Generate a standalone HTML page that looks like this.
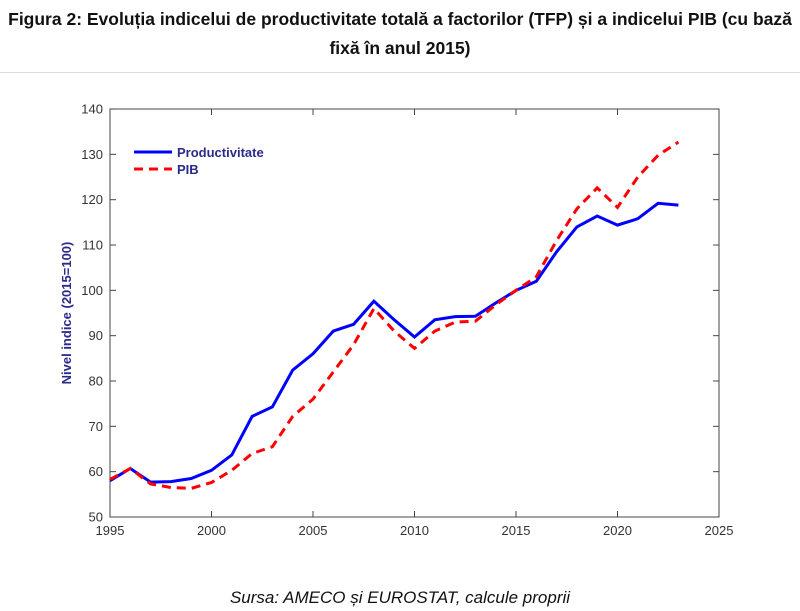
<!DOCTYPE html>
<html><head><meta charset="utf-8"><style>
body{margin:0;background:#fff;width:800px;height:611px;overflow:hidden;font-family:"Liberation Sans",sans-serif}
.t{position:absolute;left:0;width:800px;text-align:center;font-weight:bold;font-size:17.5px;color:#111;font-family:"Liberation Sans Narrow","Liberation Sans",sans-serif}
</style></head><body>
<div class="t" style="top:9px">Figura 2: Evoluția indicelui de productivitate totală a factorilor (TFP) și a indicelui PIB (cu bază</div>
<div class="t" style="top:38px">fixă în anul 2015)</div>
<div style="position:absolute;left:0;top:72px;width:800px;height:1px;background:#ddd"></div>
<svg id="s" width="800" height="611" style="position:absolute;left:0;top:0" font-family="Liberation Sans, sans-serif"></svg>
<div style="position:absolute;top:588px;left:0;width:800px;text-align:center;font-style:italic;font-size:17px;color:#111;font-family:'Liberation Sans Narrow','Liberation Sans',sans-serif">Sursa: AMECO și EUROSTAT, calcule proprii</div>
<script>
var X=function(y){return 110+20.3*(y-1995)},Y=function(v){return 517-4.533*(v-50)};
var P=[58,60.7,57.7,57.8,58.5,60.3,63.7,72.2,74.3,82.4,86,91,92.5,97.6,93.5,89.7,93.5,94.2,94.3,97.2,100,102,108.5,114,116.4,114.4,115.8,119.2,118.8];
var G=[58.3,60.7,57.3,56.5,56.3,57.6,60.3,64,65.5,72.2,76,82,88,96,91,87.2,91,93,93.2,96.8,100,103,111,118,122.6,118.3,125,129.8,132.7];
var h='<rect x="110" y="109" width="609" height="408" fill="none" stroke="#444" stroke-width="1"/>';
for(var y=1995;y<=2025;y+=5){var x=X(y);h+='<line x1="'+x+'" y1="517" x2="'+x+'" y2="511" stroke="#444"/><line x1="'+x+'" y1="109" x2="'+x+'" y2="115" stroke="#444"/><text x="'+x+'" y="535" font-size="13" fill="#333" text-anchor="middle">'+y+'</text>';}
for(var v=50;v<=140;v+=10){var yy=Y(v);h+='<line x1="110" y1="'+yy+'" x2="116" y2="'+yy+'" stroke="#444"/><line x1="719" y1="'+yy+'" x2="713" y2="'+yy+'" stroke="#444"/><text x="103" y="'+(yy+4.5)+'" font-size="13" fill="#333" text-anchor="end">'+v+'</text>';}
function pl(a){return a.map(function(v,i){return X(1995+i).toFixed(1)+','+Y(v).toFixed(1)}).join(' ')}
h+='<polyline points="'+pl(P)+'" fill="none" stroke="#0000ff" stroke-width="3"/>';
h+='<polyline points="'+pl(G)+'" fill="none" stroke="#ff0000" stroke-width="3" stroke-dasharray="9,6"/>';
h+='<line x1="134" y1="152" x2="172" y2="152" stroke="#0000ff" stroke-width="3"/><text x="177" y="157" font-size="13" font-weight="bold" fill="#2a2a8a">Productivitate</text>';
h+='<line x1="134" y1="169" x2="172" y2="169" stroke="#ff0000" stroke-width="3" stroke-dasharray="9,6"/><text x="177" y="174" font-size="13" font-weight="bold" fill="#2a2a8a">PIB</text>';
h+='<text transform="translate(71,313) rotate(-90)" font-size="13" font-weight="bold" fill="#2a2a8a" text-anchor="middle">Nivel indice (2015=100)</text>';
document.getElementById('s').innerHTML=h;
</script>
</body></html>
